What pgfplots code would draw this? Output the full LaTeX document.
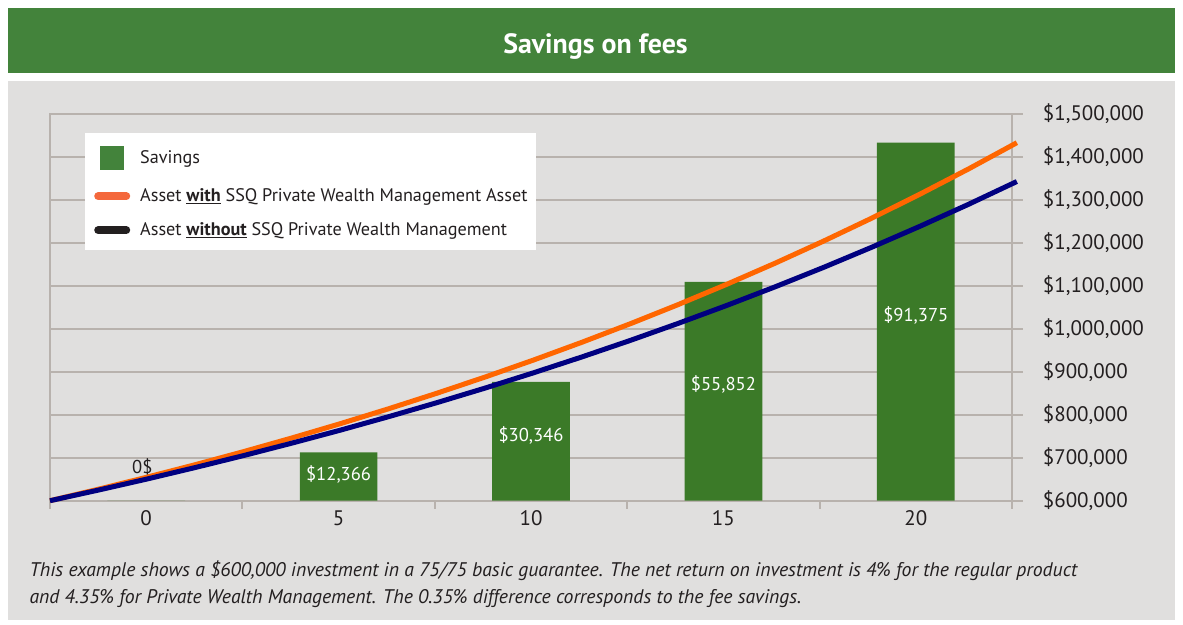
\documentclass[border=0pt]{standalone}
\usepackage{pgfplots}
\usepackage{pgfplotstable}
\pgfplotsset{compat=1.18}
\usepackage{fontspec}
\setmainfont{PT Sans}
\definecolor{titlegreen}{RGB}{67,131,59}
\definecolor{bargreen}{RGB}{59,122,40}
\definecolor{panelgray}{RGB}{224,223,222}
\definecolor{gridgray}{RGB}{184,178,173}
\definecolor{lineorange}{RGB}{255,102,0}
\definecolor{legorange}{RGB}{244,104,60}
\definecolor{navyline}{RGB}{0,0,128}
\definecolor{legblack}{RGB}{35,31,32}
\definecolor{textdark}{RGB}{35,31,32}

\pgfplotstableread{
x savings
0 0
1 12366
2 30346
3 55852
4 91375
}\savingstable

\pgfplotstableread{
year with without
0 600000 600000
1 626700 624700
2 654600 650300
3 683700 677100
4 714100 704900
5 745900 733900
6 779100 764000
7 813800 795400
8 850000 828100
9 887800 862100
10 927300 897600
11 968600 934500
12 1011700 972900
13 1056700 1012900
14 1103700 1054500
15 1152800 1097800
16 1204100 1142900
17 1257700 1190000
18 1313700 1238900
19 1372100 1289800
20 1433200 1342900
}\assettable

\begin{document}
\begin{tikzpicture}[x=1pt,y=1pt]
\path[use as bounding box, fill=white] (0,0) rectangle (1183,-624);
\fill[titlegreen] (8,-8) rectangle (1175,-72.7);
\fill[panelgray] (8,-80.7) rectangle (1175,-620);
\node[white, anchor=base, inner sep=0pt, font=\fontsize{27.9}{33}\selectfont\bfseries] at (595.5,-53.3) {Savings on fees};

% grid / frame / value axis
\begin{axis}[
  at={(50pt,-500.7pt)}, anchor=south west,
  scale only axis, width=962pt, height=386.7pt,
  xmin=-0.5, xmax=4.5, ymin=600000, ymax=1500000,
  scaled y ticks=false,
  axis line style={gridgray, line width=2pt},
  xtick={0,1,2,3,4}, xticklabels={0,5,10,15,20},
  xtick style={draw=none},
  ytick={600000,700000,...,1500000},
  yticklabels={{\$600,000},{\$700,000},{\$800,000},{\$900,000},{\$1,000,000},{\$1,100,000},{\$1,200,000},{\$1,300,000},{\$1,400,000},{\$1,500,000}},
  ytick pos=right, yticklabel pos=right,
  tick align=outside, major tick length=10.7pt,
  ytick style={gridgray, line width=2pt},
  ymajorgrids, grid style={gridgray, line width=2pt},
  ticklabel style={font=\fontsize{21}{25}\selectfont, text=textdark},
  yticklabel style={anchor=west, inner sep=0pt, xshift=20pt},
  xticklabel style={anchor=base, inner sep=0pt, yshift=-14.5pt},
  axis background/.style={fill=panelgray},
]
\end{axis}

% bars (savings)
\begin{axis}[
  at={(50pt,-500.7pt)}, anchor=south west,
  scale only axis, width=962pt, height=386.7pt,
  xmin=-0.5, xmax=4.5, ymin=0, ymax=98700,
  axis x line*=bottom, axis y line=none,
  x axis line style={gridgray, line width=2pt, -},
  xtick={-0.5,0.5,1.5,2.5,3.5,4.5}, xticklabels={},
  tick align=outside, major tick length=8pt,
  xtick style={gridgray, line width=2pt},
  ybar, bar width=77.7pt,
]
\addplot[fill=bargreen, draw=none] table[x=x, y=savings] {\savingstable};
\node[white, anchor=base, inner sep=0pt, font=\fontsize{18.6}{22}\selectfont] at (axis cs:1,6737) [yshift=-6.5pt] {\$12,366};
\node[white, anchor=base, inner sep=0pt, font=\fontsize{18.6}{22}\selectfont] at (axis cs:2,16766) [yshift=-6.5pt] {\$30,346};
\node[white, anchor=base, inner sep=0pt, font=\fontsize{18.6}{22}\selectfont] at (axis cs:3,29705) [yshift=-6.5pt] {\$55,852};
\node[white, anchor=base, inner sep=0pt, font=\fontsize{18.6}{22}\selectfont] at (axis cs:4,47390) [yshift=-6.5pt] {\$91,375};
\node[textdark, anchor=base, inner sep=0pt, font=\fontsize{18.6}{22}\selectfont] at (axis cs:-0.02,8600) [yshift=-6.5pt] {0\$};
\end{axis}

% asset lines + legend
\begin{axis}[
  at={(50pt,-500.7pt)}, anchor=south west,
  scale only axis, width=962pt, height=386.7pt,
  xmin=0, xmax=19.9, ymin=600000, ymax=1500000,
  scaled y ticks=false,
  axis lines=none, clip=false,
  legend style={at={(0.0364,0.9527)}, anchor=north west, draw=none, fill=white,
    inner xsep=9pt, inner ysep=13pt, row sep=19.5pt, column sep=10pt,
    font=\fontsize{18.2}{22}\selectfont, text=textdark,
    nodes={inner sep=0pt}},
  legend cell align=left,
]
\addlegendimage{legend image code/.code={\fill[titlegreen, draw=none] (6pt,-12pt) rectangle (30pt,12pt); \path[draw=none, fill=none] (0pt,-12pt) rectangle (36pt,12pt);}}
\addlegendentry{Savings}
\addplot[lineorange, line width=5pt, line join=round,
  legend image code/.code={\draw[legorange, line width=8pt, line cap=round] (4pt,0pt) -- (32pt,0pt);}]
  table[x=year, y=with] {\assettable};
\addlegendentry{Asset \textbf{\underline{with}} SSQ Private Wealth Management Asset}
\addplot[navyline, line width=5pt, line join=round,
  legend image code/.code={\draw[legblack, line width=8pt, line cap=round] (4pt,0pt) -- (32pt,0pt);}]
  table[x=year, y=without] {\assettable};
\addlegendentry{Asset \textbf{\underline{without}} SSQ Private Wealth Management}
\end{axis}

\node[anchor=base west, inner sep=0pt, text=textdark, font=\fontsize{19.7}{23}\selectfont\itshape] at (29.3,-576.7) {This example shows a \$600,000 investment in a 75/75 basic guarantee. The net return on investment is 4\% for the regular product};
\node[anchor=base west, inner sep=0pt, text=textdark, font=\fontsize{19.7}{23}\selectfont\itshape] at (29.3,-603) {and 4.35\% for Private Wealth Management. The 0.35\% difference corresponds to the fee savings.};
\end{tikzpicture}
\end{document}
